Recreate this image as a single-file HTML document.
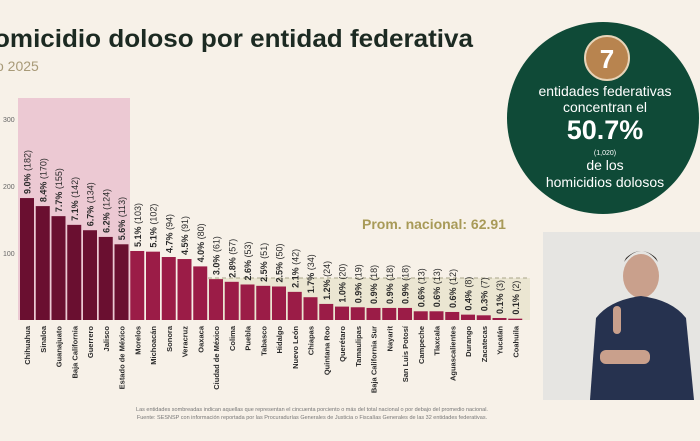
<!DOCTYPE html>
<html><head><meta charset="utf-8"><style>
html,body{margin:0;padding:0;background:#f7f1e8;}
svg{display:block;font-family:"Liberation Sans",sans-serif;}
</style></head><body>
<svg width="700" height="441" viewBox="0 0 700 441">
<rect width="700" height="441" fill="#f7f1e8"/>
<text x="-6" y="47" font-size="25" font-weight="bold" fill="#1c2a22" textLength="479" lengthAdjust="spacingAndGlyphs">omicidio doloso por entidad federativa</text>
<text x="-4" y="71" font-size="14" fill="#a89a78">o 2025</text>
<rect x="18" y="98" width="112" height="222" fill="#ecc9d3"/>
<rect x="208" y="278" width="322" height="42" fill="#ebe6d2"/>
<line x1="208" y1="278" x2="530" y2="278" stroke="#a9a58a" stroke-dasharray="4,3" stroke-width="1"/>
<g font-size="7" fill="#666"><text x="3" y="122">300</text><text x="3" y="189">200</text><text x="3" y="256">100</text></g>
<text x="362" y="229" font-size="14" font-weight="bold" fill="#a89a58">Prom. nacional: 62.91</text>
<g id="bars"></g>
<text x="312" y="411" font-size="5.5" fill="#777" text-anchor="middle">Las entidades sombreadas indican aquellas que representan el cincuenta porciento o más del total nacional o por debajo del promedio nacional.</text>
<text x="312" y="419" font-size="5.5" fill="#777" text-anchor="middle">Fuente: SESNSP con información reportada por las Procuradurías Generales de Justicia o Fiscalías Generales de las 32 entidades federativas.</text>
<circle cx="603" cy="118" r="96" fill="#0f4a37"/>
<circle cx="607" cy="58" r="22" fill="#b8844f" stroke="#e8d4b8" stroke-width="2"/>
<text x="607" y="68" font-size="26" font-weight="bold" fill="#fff" text-anchor="middle">7</text>
<g fill="#fff" text-anchor="middle">
<text x="605" y="96" font-size="14">entidades federativas</text>
<text x="605" y="112" font-size="14">concentran el</text>
<text x="605" y="139" font-size="27" font-weight="bold">50.7%</text>
<text x="605" y="155" font-size="7">(1,020)</text>
<text x="605" y="170" font-size="14">de los</text>
<text x="605" y="187" font-size="14">homicidios dolosos</text>
</g>
<rect x="543" y="232" width="157" height="168" fill="#e6e5e2"/>
<ellipse cx="641" cy="276" rx="18" ry="22" fill="#c9a08c"/>
<path d="M624 262 Q641 240 658 262 L656 258 Q641 244 626 258Z" fill="#2a2522"/>
<path d="M590 400 L596 318 Q610 300 641 296 Q672 300 686 318 L694 400Z" fill="#26324f"/>
<rect x="600" y="350" width="50" height="14" rx="6" fill="#c9a08c"/>
<rect x="613" y="306" width="8" height="28" rx="4" fill="#c9a08c"/>
</svg>
<script>
const d=[["Chihuahua","9.0%",182],["Sinaloa","8.4%",170],["Guanajuato","7.7%",155],["Baja California","7.1%",142],["Guerrero","6.7%",134],["Jalisco","6.2%",124],["Estado de México","5.6%",113],["Morelos","5.1%",103],["Michoacán","5.1%",102],["Sonora","4.7%",94],["Veracruz","4.5%",91],["Oaxaca","4.0%",80],["Ciudad de México","3.0%",61],["Colima","2.8%",57],["Puebla","2.6%",53],["Tabasco","2.5%",51],["Hidalgo","2.5%",50],["Nuevo León","2.1%",42],["Chiapas","1.7%",34],["Quintana Roo","1.2%",24],["Querétaro","1.0%",20],["Tamaulipas","0.9%",19],["Baja California Sur","0.9%",18],["Nayarit","0.9%",18],["San Luis Potosí","0.9%",18],["Campeche","0.6%",13],["Tlaxcala","0.6%",13],["Aguascalientes","0.6%",12],["Durango","0.4%",8],["Zacatecas","0.3%",7],["Yucatán","0.1%",3],["Coahuila","0.1%",2]];
let s="";
d.forEach((r,i)=>{const x=20+i*15.75,h=r[2]*0.67,y=320-h,cx=x+7;
s+=`<rect x="${x}" y="${y}" width="14" height="${h}" fill="${i<7?'#6a0f30':'#9b1c47'}"/>`;
s+=`<text transform="translate(${cx+3.5},${y-4}) rotate(-90)" font-size="9" fill="#2a2a2a"><tspan font-weight="bold">${r[1]}</tspan> (${r[2]})</text>`;
s+=`<text transform="translate(${cx+3},326) rotate(-90)" font-size="7.5" font-weight="bold" fill="#2a2a2a" text-anchor="end">${r[0]}</text>`;});
document.getElementById("bars").innerHTML=s;
</script>
</body></html>
